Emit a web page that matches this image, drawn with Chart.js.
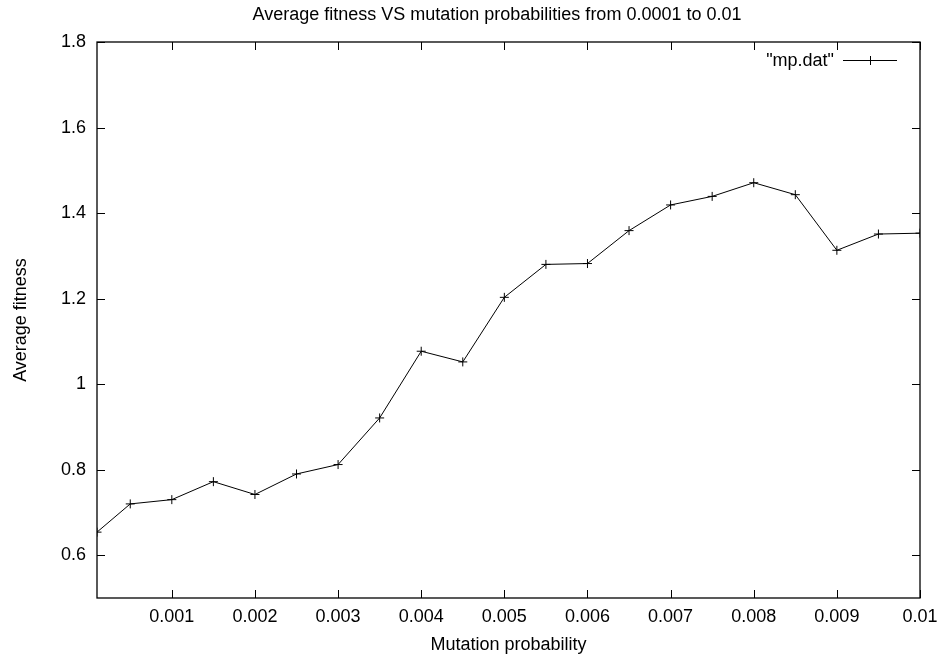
<!DOCTYPE html>
<html>
<head>
<meta charset="utf-8">
<script src="https://cdn.jsdelivr.net/npm/chart.js@4.4.0/dist/chart.umd.min.js"></script>
<style>
html,body{margin:0;padding:0;background:#fff;}
canvas{display:block;}
</style>
</head>
<body>
<canvas id="c" width="941" height="658"></canvas>
<script>
const mutationProb = [0.0001,0.0005,0.001,0.0015,0.002,0.0025,0.003,0.0035,0.004,0.0045,0.005,0.0055,0.006,0.0065,0.007,0.0075,0.008,0.0085,0.009,0.0095,0.01];
const avgFitness = [0.654,0.720,0.730,0.772,0.742,0.790,0.812,0.921,1.077,1.052,1.203,1.280,1.282,1.359,1.419,1.439,1.471,1.443,1.313,1.351,1.353];
const xTicks = [0.001,0.002,0.003,0.004,0.005,0.006,0.007,0.008,0.009,0.01];
const xTickLabels = ["0.001","0.002","0.003","0.004","0.005","0.006","0.007","0.008","0.009","0.01"];
const yTicks = [0.6,0.8,1.0,1.2,1.4,1.6,1.8];
const yTickLabels = ["0.6","0.8","1","1.2","1.4","1.6","1.8"];
const seriesLabel = '"mp.dat"';
const titleText = 'Average fitness VS mutation probabilities from 0.0001 to 0.01';

const FONT = '"Liberation Sans", Arial, Helvetica, sans-serif';
const FS = 18;

const gnuplotFrame = {
  id: 'gnuplotFrame',
  afterDatasetsDraw(chart) {
    const ctx = chart.ctx;
    const a = chart.chartArea;
    const xs = chart.scales.x, ys = chart.scales.y;
    ctx.save();
    ctx.strokeStyle = '#000';
    ctx.lineWidth = 1.3;
    ctx.strokeRect(a.left, a.top, a.right - a.left, a.bottom - a.top);
    ctx.lineWidth = 1;
    ctx.beginPath();
    const tl = 8;
    xTicks.forEach(v => {
      const px = Math.round(xs.getPixelForValue(v)) + 0.5;
      ctx.moveTo(px, a.bottom); ctx.lineTo(px, a.bottom - tl);
      ctx.moveTo(px, a.top); ctx.lineTo(px, a.top + tl);
    });
    yTicks.forEach(v => {
      const py = Math.round(ys.getPixelForValue(v)) + 0.5;
      ctx.moveTo(a.left, py); ctx.lineTo(a.left + tl, py);
      ctx.moveTo(a.right, py); ctx.lineTo(a.right - tl, py);
    });
    ctx.stroke();
    // title
    ctx.font = FS + 'px ' + FONT;
    ctx.fillStyle = '#000';
    ctx.textAlign = 'center';
    ctx.textBaseline = 'alphabetic';
    ctx.fillText(titleText, 497, 19.5);
    // legend (gnuplot style: text then sample)
    const ly = 60;
    ctx.textAlign = 'right';
    ctx.fillText(seriesLabel, 834, 66);
    ctx.beginPath();
    ctx.moveTo(843, ly + 0.5); ctx.lineTo(897, ly + 0.5);
    ctx.moveTo(866, ly + 0.5); ctx.lineTo(875, ly + 0.5);
    ctx.moveTo(870.5, ly - 4); ctx.lineTo(870.5, ly + 5);
    ctx.stroke();
    ctx.restore();
  }
};

new Chart(document.getElementById('c'), {
  type: 'line',
  data: {
    datasets: [{
      label: seriesLabel,
      data: mutationProb.map((x, i) => ({x: x, y: avgFitness[i]})),
      borderColor: '#000',
      backgroundColor: '#000',
      borderWidth: 1,
      pointStyle: 'cross',
      pointRadius: 4.5,
      pointBorderWidth: 1,
      pointHoverRadius: 4.5,
      tension: 0,
      fill: false
    }]
  },
  options: {
    responsive: false,
    animation: false,
    events: [],
    layout: { padding: { left: 0, right: 21, top: 42, bottom: 0 } },
    plugins: {
      legend: { display: false },
      tooltip: { enabled: false },
      title: { display: false }
    },
    scales: {
      x: {
        type: 'linear',
        min: 0.0001,
        max: 0.01,
        grid: { display: false, drawTicks: false },
        border: { display: false },
        afterBuildTicks: s => { s.ticks = xTicks.map(v => ({value: v})); },
        afterFit: s => { s.height = 60; s.paddingLeft = 0; s.paddingRight = 0; },
        ticks: {
          color: '#000',
          font: { family: FONT, size: FS },
          padding: 8,
          maxRotation: 0,
          autoSkip: false,
          callback: (v) => { const i = xTicks.findIndex(t => Math.abs(t - v) < 1e-9); return i >= 0 ? xTickLabels[i] : ''; }
        },
        title: {
          display: true,
          text: 'Mutation probability',
          color: '#000',
          font: { family: FONT, size: FS },
          padding: { top: 0, bottom: 2 }
        }
      },
      y: {
        type: 'linear',
        min: 0.5,
        max: 1.8,
        grid: { display: false, drawTicks: false },
        border: { display: false },
        afterBuildTicks: s => { s.ticks = yTicks.map(v => ({value: v})); },
        afterFit: s => { s.width = 97; s.paddingTop = 0; s.paddingBottom = 0; },
        ticks: {
          color: '#000',
          font: { family: FONT, size: FS },
          padding: 11,
          autoSkip: false,
          callback: (v) => { const i = yTicks.findIndex(t => Math.abs(t - v) < 1e-9); return i >= 0 ? yTickLabels[i] : ''; }
        },
        title: {
          display: true,
          text: 'Average fitness',
          color: '#000',
          font: { family: FONT, size: FS },
          padding: { top: 10, bottom: 0 }
        }
      }
    }
  },
  plugins: [gnuplotFrame]
});
</script>
</body>
</html>
